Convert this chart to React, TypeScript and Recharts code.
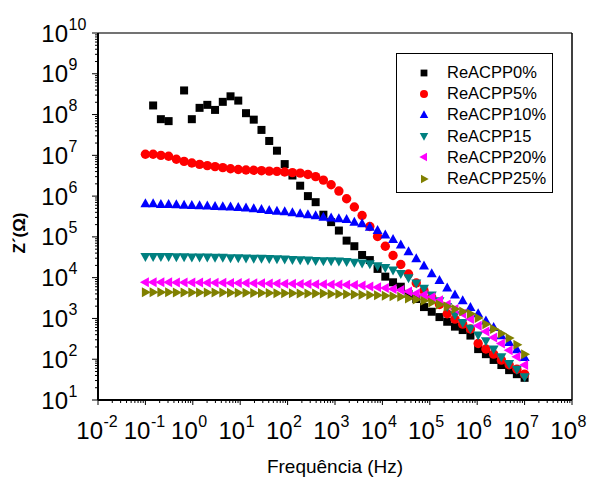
import { ScatterChart, Scatter, XAxis, YAxis, ReferenceLine } from "recharts";

// frequency sweep, 50 points from 0.1 Hz to 10 MHz
const freq = [
  0.1, 0.1456, 0.2121, 0.3089, 0.4498, 0.6551, 0.9541, 1.3895, 2.0236, 2.9471,
  4.2919, 6.2506, 9.103, 13.257, 19.307, 28.118, 40.949, 59.636, 86.851, 126.49,
  184.21, 268.27, 390.7, 568.99, 828.64, 1206.8, 1757.5, 2559.5, 3727.6, 5428.7,
  7906, 11514, 16768, 24421, 35565, 51795, 75431, 109854, 159986, 232995,
  339322, 494171, 719686, 1048113, 1526418, 2222996, 3237458, 4714866, 6866488, 10000000,
];

const z0 = [
  null, 1.67e8, 7.7e7, 6.9e7, null, 3.9e8, 7.7e7, 1.46e8, 1.73e8, 1.3e8,
  2.05e8, 2.8e8, 2.2e8, 1.08e8, 7.5e7, 4.2e7, 2.25e7, 1.3e7, 6.1e6, 3.2e6,
  1.8e6, 1.0e6, 7.1e5, 3.5e5, 2.3e5, 1.43e5, 8.1e4, 5.9e4, 3.6e4, 2.7e4,
  1.64e4, 1.06e4, 7.7e3, 6.0e3, 4.0e3, 3.0e3, 1.9e3, 1.46e3, 1.08e3, 830,
  630, 519, 380, 177, 133, 96, 72, 54, 43, 35,
];
const z5 = [
  1.06e7, 1.06e7, 1.0e7, 9.5e6, 8.0e6, 7.1e6, 6.5e6, 6.0e6, 5.6e6, 5.3e6,
  5.0e6, 4.7e6, 4.5e6, 4.36e6, 4.3e6, 4.2e6, 4.1e6, 4.05e6, 3.9e6, 3.76e6,
  3.67e6, 3.4e6, 3.0e6, 2.47e6, 1.9e6, 1.33e6, 8.6e5, 5.4e5, 3.35e5, 1.8e5,
  1.02e5, 5.9e4, 3.5e4, 2.1e4, 1.23e4, 7.4e3, 4.8e3, 3.3e3, 2.2e3, 1.3e3,
  965, 725, 550, 243, 178, 133, 95, 73, 57, 43,
];
const z10 = [
  6.5e5, 6.5e5, 6.2e5, 6.2e5, 6.1e5, 6.0e5, 5.9e5, 5.8e5, 5.7e5, 5.57e5,
  5.5e5, 5.4e5, 5.25e5, 5.1e5, 4.9e5, 4.7e5, 4.45e5, 4.27e5, 4.13e5, 3.9e5,
  3.7e5, 3.47e5, 3.3e5, 3.04e5, 2.9e5, 2.8e5, 2.67e5, 2.3e5, 2.1e5, 1.73e5,
  1.43e5, 1.12e5, 8.6e4, 6.3e4, 4.35e4, 2.9e4, 1.94e4, 1.24e4, 8.5e3, 5.6e3,
  3.76e3, 2.72e3, 1.86e3, 1.3e3, 870, 600, 375, 257, 170, 110,
];
const z15 = [
  3.3e4, 3.3e4, 3.3e4, 3.3e4, 3.25e4, 3.25e4, 3.2e4, 3.2e4, 3.2e4, 3.15e4,
  3.15e4, 3.1e4, 3.1e4, 3.05e4, 3.0e4, 3.0e4, 2.95e4, 2.9e4, 2.85e4, 2.8e4,
  2.75e4, 2.7e4, 2.65e4, 2.6e4, 2.6e4, 2.55e4, 2.5e4, 2.4e4, 2.3e4, 2.2e4,
  1.95e4, 1.78e4, 1.54e4, 1.27e4, 9.9e3, 7.4e3, 5.5e3, 3.76e3, 2.7e3, 1.95e3,
  1.23e3, 800, 575, 395, 283, 177, 115, 78, 57, 37,
];
const z20 = [
  7.7e3, 7.7e3, 7.7e3, 7.7e3, 7.6e3, 7.6e3, 7.6e3, 7.6e3, 7.5e3, 7.5e3,
  7.5e3, 7.4e3, 7.4e3, 7.4e3, 7.3e3, 7.3e3, 7.2e3, 7.2e3, 7.1e3, 7.1e3,
  7.0e3, 7.0e3, 6.9e3, 6.9e3, 6.8e3, 6.8e3, 6.7e3, 6.6e3, 6.4e3, 6.1e3,
  5.8e3, 5.6e3, 5.3e3, 5.0e3, 4.6e3, 4.1e3, 3.76e3, 3.3e3, 2.8e3, 2.2e3,
  1.7e3, 1.3e3, 970, 660, 480, 340, 243, 166, 115, 72,
];
const z25 = [
  4.4e3, 4.4e3, 4.4e3, 4.4e3, 4.35e3, 4.35e3, 4.35e3, 4.3e3, 4.3e3, 4.3e3,
  4.3e3, 4.25e3, 4.25e3, 4.25e3, 4.2e3, 4.2e3, 4.2e3, 4.15e3, 4.15e3, 4.15e3,
  4.1e3, 4.1e3, 4.1e3, 4.1e3, 4.0e3, 3.95e3, 3.9e3, 3.85e3, 3.8e3, 3.75e3,
  3.7e3, 3.6e3, 3.5e3, 3.4e3, 3.1e3, 2.9e3, 2.7e3, 2.46e3, 2.2e3, 1.95e3,
  1.7e3, 1.48e3, 1.3e3, 1.02e3, 725, 550, 430, 330, 225, 133,
];

const xExponents = [-2, -1, 0, 1, 2, 3, 4, 5, 6, 7, 8];
const yExponents = [1, 2, 3, 4, 5, 6, 7, 8, 9, 10];

const series = [
  { name: "ReACPP0%", values: z0, color: "#000000", kind: "square" },
  { name: "ReACPP5%", values: z5, color: "#ff0000", kind: "circle" },
  { name: "ReACPP10%", values: z10, color: "#0000ff", kind: "up" },
  { name: "ReACPP15", values: z15, color: "#008080", kind: "down" },
  { name: "ReACPP20%", values: z20, color: "#ff00ff", kind: "left" },
  { name: "ReACPP25%", values: z25, color: "#808000", kind: "right" },
];

const FONT = "'Liberation Sans', Arial, Helvetica, sans-serif";

function withMinors(exps: number[]) {
  const out: number[] = [];
  exps.forEach((e, i) => {
    out.push(Math.pow(10, e));
    if (i < exps.length - 1) for (let m = 2; m <= 9; m++) out.push(m * Math.pow(10, e));
  });
  return out;
}

function marker(kind: string, cx: number, cy: number, color: string, s = 1) {
  switch (kind) {
    case "square":
      return <rect x={cx - 4 * s} y={cy - 4 * s} width={8 * s} height={8 * s} fill={color} />;
    case "circle":
      return <circle cx={cx} cy={cy} r={4.7 * s} fill={color} />;
    case "up":
      return <path d={`M${cx},${cy - 5.5 * s}L${cx + 5 * s},${cy + 3.5 * s}L${cx - 5 * s},${cy + 3.5 * s}Z`} fill={color} />;
    case "down":
      return <path d={`M${cx},${cy + 5.5 * s}L${cx + 5 * s},${cy - 3.5 * s}L${cx - 5 * s},${cy - 3.5 * s}Z`} fill={color} />;
    case "left":
      return <path d={`M${cx - 5.5 * s},${cy}L${cx + 3.5 * s},${cy - 5 * s}L${cx + 3.5 * s},${cy + 5 * s}Z`} fill={color} />;
    default:
      return <path d={`M${cx + 5.5 * s},${cy}L${cx - 3.5 * s},${cy - 5 * s}L${cx - 3.5 * s},${cy + 5 * s}Z`} fill={color} />;
  }
}

const isMajor = (v: number) => Math.abs(Math.log10(v) - Math.round(Math.log10(v))) < 1e-9;

function XTick({ x, y, payload }: any) {
  const v = payload.value;
  const major = isMajor(v);
  const e = Math.round(Math.log10(v));
  return (
    <g>
      <line x1={x} x2={x} y1={y} y2={y + (major ? 5 : 3)} stroke="#000" strokeWidth={1} />
      {major && (
        <>
          <text x={x + 5} y={y + 39} textAnchor="end" fontSize={24} fontFamily={FONT} fill="#000">10</text>
          <text x={x + 5.5} y={y + 27} textAnchor="start" fontSize={16} fontFamily={FONT} fill="#000">{e}</text>
        </>
      )}
    </g>
  );
}

function YTick({ x, y, payload }: any) {
  const v = payload.value;
  const major = isMajor(v);
  const e = Math.round(Math.log10(v));
  return (
    <g>
      <line x1={x} x2={x - (major ? 6 : 3)} y1={y} y2={y} stroke="#000" strokeWidth={1} />
      {major && (
        <>
          <text x={x - 30} y={y + 8.5} textAnchor="end" fontSize={24} fontFamily={FONT} fill="#000">10</text>
          <text x={x - 29.5} y={y - 3.5} textAnchor="start" fontSize={16} fontFamily={FONT} fill="#000">{e}</text>
        </>
      )}
    </g>
  );
}

export default function App() {
  return (
    <div style={{ position: "absolute", left: 0, top: 0, width: 591, height: 479, background: "#fff", fontFamily: FONT }}>
      <ScatterChart width={591} height={479} margin={{ top: 33, right: 19, bottom: 78, left: 97 }}>
        <XAxis
          type="number"
          dataKey="f"
          scale="log"
          domain={[0.01, 1e8]}
          allowDataOverflow
          ticks={withMinors(xExponents)}
          interval={0}
          height={1}
          tickSize={0}
          tickMargin={0}
          tickLine={false}
          axisLine={{ stroke: "#000", strokeWidth: 2 }}
          tick={<XTick />}
        />
        <YAxis
          type="number"
          dataKey="z"
          scale="log"
          domain={[10, 1e10]}
          allowDataOverflow
          ticks={withMinors(yExponents)}
          interval={0}
          width={1}
          tickSize={0}
          tickMargin={0}
          tickLine={false}
          axisLine={{ stroke: "#000", strokeWidth: 2 }}
          tick={<YTick />}
        />
        <ReferenceLine y={1e10} stroke="#444" strokeWidth={1.5} />
        <ReferenceLine x={1e8} stroke="#000" strokeWidth={1.5} />
        {series.map((s) => (
          <Scatter
            key={s.name}
            name={s.name}
            data={freq.map((f, i) => ({ f, z: s.values[i] })).filter((d) => d.z != null)}
            isAnimationActive={false}
            shape={(p: any) => marker(s.kind, p.cx, p.cy, s.color)}
          />
        ))}
        <text x={335} y={473} textAnchor="middle" fontSize={19} fontFamily={FONT} fill="#000">Frequência (Hz)</text>
        <text x={25} y={233} transform="rotate(-90 25 233)" textAnchor="middle" fontSize={17} fontWeight="bold" fontFamily={FONT} fill="#000">Z´(Ω)</text>
      </ScatterChart>
      <div
        style={{
          position: "absolute", left: 396, top: 53, width: 157, height: 140, boxSizing: "border-box",
          border: "1px solid #000", paddingTop: 8, background: "#fff",
        }}
      >
        {series.map((s) => (
          <div key={s.name} style={{ display: "flex", alignItems: "center", height: 21.2 }}>
            <svg width={16} height={16} style={{ marginLeft: 18.5, flex: "none" }}>
              {marker(s.kind, 8, 8, s.color, 0.85)}
            </svg>
            <span style={{ marginLeft: 15.5, fontSize: 16.5, lineHeight: "21px", color: "#000" }}>{s.name}</span>
          </div>
        ))}
      </div>
    </div>
  );
}
